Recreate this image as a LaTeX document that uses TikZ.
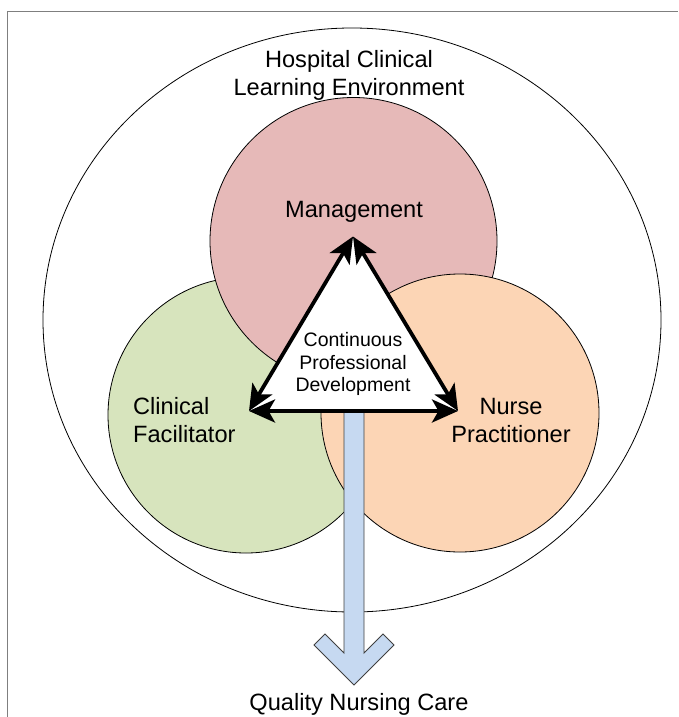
\documentclass[tikz,border=0pt]{standalone}
\usepackage{fontspec}
\setmainfont{Liberation Sans}
\usetikzlibrary{arrows.meta}
\definecolor{framegray}{HTML}{7F7F7F}
\definecolor{pinkfill}{HTML}{E6B9B8}
\definecolor{greenfill}{HTML}{D7E4BD}
\definecolor{orangefill}{HTML}{FCD5B5}
\definecolor{bluefill}{HTML}{C6D9F1}
\tikzset{
  ring/.style={draw=black, line width=0.8pt},
  bigtext/.style={inner sep=0pt, font=\fontsize{23.6}{28}\selectfont},
  smalltext/.style={inner sep=0pt, font=\fontsize{19.5}{22.5}\selectfont, align=center},
  tiphead/.tip={Stealth[length=26pt,width=23pt,inset=6.5pt]},
  triedge/.style={line width=3.8pt, tiphead-tiphead},
  bluearrow/.style={fill=bluefill, draw=black!75, line width=0.9pt, line join=miter}
}
\begin{document}
\begin{tikzpicture}[x=1pt,y=-1pt]
\useasboundingbox (0,0) rectangle (678,717);
% frame
\draw[framegray, line width=1.4pt] (7.3,717) -- (7.3,11.7) -- (678,11.7);
% outer environment
\draw[ring] (352,320) ellipse [x radius=309pt, y radius=292pt];
% three circles
\draw[ring, fill=greenfill] (246,415) circle [radius=138pt];
\draw[ring, fill=pinkfill] (353.5,241) circle [radius=143.5pt];
\draw[ring, fill=orangefill] (460,413) circle [radius=139pt];
% blue arrow to quality care
\draw[bluearrow] (344,411) -- (344,653) -- (325,634) -- (314,645) -- (354,685)
  -- (394,645) -- (383,634) -- (364,653) -- (364,411) -- cycle;
% triangle
\coordinate (T) at (353,236.5);
\coordinate (L) at (249,411);
\coordinate (R) at (458,411);
\fill[white] (T) -- (L) -- (R) -- cycle;
\draw[triedge] (T) -- (L);
\draw[triedge] (L) -- (R);
\draw[triedge] (R) -- (T);
% labels
\node[bigtext, align=center] (env) at (349,75) {Hospital Clinical\\Learning Environment};
\node[bigtext] (mgmt) at (354,212) {Management};
\node[bigtext, align=left, anchor=west] (cf) at (133,420) {Clinical\\Facilitator};
\node[bigtext, align=center] (np) at (511,420) {Nurse\\Practitioner};
\node[smalltext] (cpd) at (353,364) {Continuous\\Professional\\Development};
\node[bigtext, anchor=base] (qnc) at (359,710) {Quality Nursing Care};
\end{tikzpicture}
\end{document}
